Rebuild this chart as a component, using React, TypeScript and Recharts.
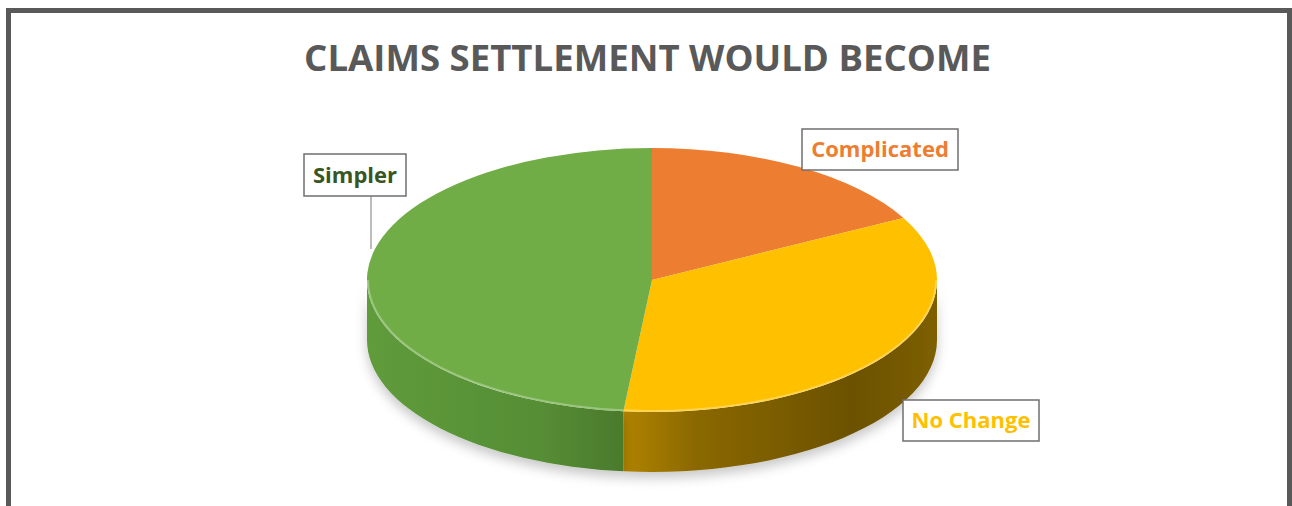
import { PieChart, Pie, Cell } from "recharts";

// chart data
const categories = ["Complicated", "No Change", "Simpler"];
const shares = [17.2, 34.4, 48.4];

const TOP_COLORS = ["#ED7D31", "#FFC000", "#70AD47"];
const TEXT_COLORS = ["#ED7D31", "#FFC000", "#375623"];
// side wall gradient stops (offset, colour), across the full pie width
const WALL_STOPS = [
  [[0, "#b65a1c"], [1, "#8a4010"]],
  [[0.45, "#b08300"], [0.58, "#8a6800"], [0.85, "#6c5100"], [1, "#7d5f00"]],
  [[0, "#5f9b3b"], [0.3, "#568e35"], [0.45, "#4b7a2c"]],
];

const data = categories.map((name, i) => ({ name, value: shares[i] }));

const W = 1292;
const H = 506;
const CX = 652;
const CY = 280;
const RX = 285;
const TILT = 0.463; // vertical squash of the pie top
const DEPTH = 60; // thickness of the side wall
const RAD = Math.PI / 180;

// label boxes placed as in the original (Excel manual placement)
const LABEL_BOXES: Record<string, { x: number; y: number; w: number; h: number; line?: number[] }> = {
  Simpler: { x: 304, y: 154, w: 102, h: 42, line: [371, 196, 371, 249] },
  Complicated: { x: 802, y: 129, w: 156, h: 41 },
  "No Change": { x: 903, y: 400, w: 136, h: 41 },
};

const pt = (cx: number, cy: number, rx: number, ry: number, deg: number) => [
  cx + rx * Math.cos(deg * RAD),
  cy - ry * Math.sin(deg * RAD),
];

// visible (front) part of a slice's rim: math angles between -180 and 0
const frontRange = (a: number, b: number) => {
  const lo = Math.max(Math.min(a, b), -180);
  const hi = Math.min(Math.max(a, b), 0);
  return lo < hi ? [lo, hi] : null;
};

const WallSlice = (p: any) => {
  const { cx, cy, outerRadius, startAngle, endAngle, index } = p;
  const rx = outerRadius;
  const ry = outerRadius * TILT;
  const range = frontRange(startAngle, endAngle);
  if (!range) return <g />;
  const [ax, ay] = pt(cx, cy, rx, ry, range[0]);
  const [bx, by] = pt(cx, cy, rx, ry, range[1]);
  const id = `wall-grad-${index}`;
  const d = `M${ax},${ay} A${rx},${ry} 0 0 0 ${bx},${by} L${bx},${by + DEPTH} A${rx},${ry} 0 0 1 ${ax},${ay + DEPTH} Z`;
  return (
    <g>
      <defs>
        <linearGradient id={id} gradientUnits="userSpaceOnUse" x1={cx - rx} x2={cx + rx} y1={0} y2={0}>
          {WALL_STOPS[index].map(([o, c]) => (
            <stop key={String(o)} offset={o as number} stopColor={c as string} />
          ))}
        </linearGradient>
        <filter id={`wall-shadow-${index}`} x="-20%" y="-30%" width="140%" height="180%">
          <feDropShadow dx="0" dy="6" stdDeviation="6" floodColor="#000" floodOpacity="0.22" />
        </filter>
      </defs>
      <path d={d} fill={`url(#${id})`} filter={`url(#wall-shadow-${index})`} />
    </g>
  );
};

const TopSlice = (p: any) => {
  const { cx, cy, outerRadius, startAngle, endAngle, fill } = p;
  const rx = outerRadius;
  const ry = outerRadius * TILT;
  const [x1, y1] = pt(cx, cy, rx, ry, startAngle);
  const [x2, y2] = pt(cx, cy, rx, ry, endAngle);
  const large = Math.abs(endAngle - startAngle) > 180 ? 1 : 0;
  const sweep = endAngle < startAngle ? 1 : 0;
  const range = frontRange(startAngle, endAngle);
  let rim = null;
  if (range) {
    const [ax, ay] = pt(cx, cy, rx - 1, ry - 1, range[0]);
    const [bx, by] = pt(cx, cy, rx - 1, ry - 1, range[1]);
    rim = (
      <path
        d={`M${ax},${ay} A${rx - 1},${ry - 1} 0 0 0 ${bx},${by}`}
        fill="none"
        stroke="#ffffff"
        strokeOpacity={0.3}
        strokeWidth={2}
      />
    );
  }
  return (
    <g>
      <path d={`M${cx},${cy} L${x1},${y1} A${rx},${ry} 0 ${large} ${sweep} ${x2},${y2} Z`} fill={fill} />
      {rim}
    </g>
  );
};

const renderLabel = (p: any) => {
  const name = p.name ?? p.payload?.name;
  const b = LABEL_BOXES[name];
  if (!b) return null;
  const color = TEXT_COLORS[categories.indexOf(name)];
  return (
    <g>
      {b.line && (
        <line x1={b.line[0]} y1={b.line[1]} x2={b.line[2]} y2={b.line[3]} stroke="#a6a6a6" strokeWidth={1.5} />
      )}
      <rect x={b.x} y={b.y} width={b.w} height={b.h} fill="#ffffff" stroke="#6f6f6f" strokeWidth={1.5} />
      <text
        x={b.x + b.w / 2}
        y={b.y + b.h / 2}
        dy="0.36em"
        textAnchor="middle"
        fontFamily="'Open Sans', sans-serif"
        fontWeight={700}
        fontSize={22}
        fill={color}
      >
        {name}
      </text>
    </g>
  );
};

export default function App() {
  return (
    <div
      style={{
        position: "fixed",
        left: 0,
        top: 0,
        width: W,
        height: H,
        overflow: "hidden",
        background: "#ffffff",
      }}
    >
      {/* frame */}
      <div
        style={{
          position: "absolute",
          left: 6,
          top: 8,
          width: W - 6,
          height: 600,
          boxSizing: "border-box",
          border: "5px solid #595959",
        }}
      />
      <div
        style={{
          position: "absolute",
          left: 0,
          top: 39,
          width: 1295,
          textAlign: "center",
          fontFamily: "'Open Sans', sans-serif",
          fontWeight: 700,
          fontSize: 36.6,
          lineHeight: 1,
          color: "#595959",
        }}
      >
        CLAIMS SETTLEMENT WOULD BECOME
      </div>
      <div style={{ position: "absolute", left: 0, top: 0 }}>
        <PieChart width={W} height={H} margin={{ top: 0, right: 0, bottom: 0, left: 0 }}>
          <Pie
            data={data}
            dataKey="value"
            nameKey="name"
            cx={CX}
            cy={CY}
            outerRadius={RX}
            startAngle={90}
            endAngle={-270}
            stroke="none"
            shape={WallSlice}
            isAnimationActive={false}
          >
            {data.map((d, i) => (
              <Cell key={d.name} fill={TOP_COLORS[i]} />
            ))}
          </Pie>
          <Pie
            data={data}
            dataKey="value"
            nameKey="name"
            cx={CX}
            cy={CY}
            outerRadius={RX}
            startAngle={90}
            endAngle={-270}
            stroke="none"
            shape={TopSlice}
            label={renderLabel}
            labelLine={false}
            isAnimationActive={false}
          >
            {data.map((d, i) => (
              <Cell key={d.name} fill={TOP_COLORS[i]} />
            ))}
          </Pie>
        </PieChart>
      </div>
    </div>
  );
}
